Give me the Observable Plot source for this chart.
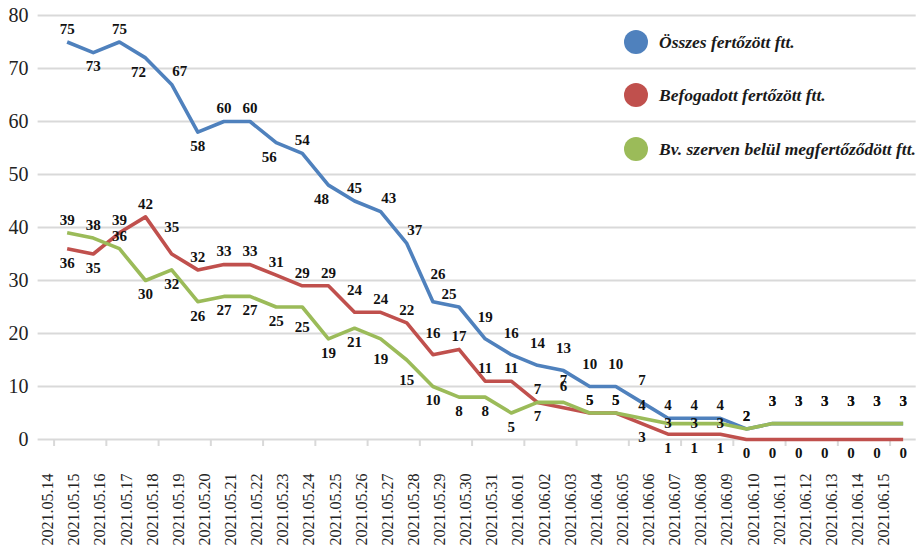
<!DOCTYPE html>
<html><head><meta charset="utf-8">
<script src="https://cdn.jsdelivr.net/npm/d3@7"></script>
<script src="https://cdn.jsdelivr.net/npm/@observablehq/plot@0.6"></script>
<style>
body{margin:0;background:#fff;}
#wrap{position:relative;width:916px;height:552px;overflow:hidden;}
#wrap svg text{font-family:"Liberation Serif","Times New Roman",serif;}
.legend{position:absolute;left:0;top:0;font-family:"Liberation Serif","Times New Roman",serif;font-weight:bold;font-style:italic;font-size:17.5px;color:#1a1a1a;}
.item{position:absolute;display:flex;align-items:center;white-space:nowrap;height:24px;}
.dot{width:24px;height:24px;border-radius:50%;margin-right:11px;flex:none;}
</style></head><body><div id="wrap"></div>
<script>
// ---- data ----
const dates = ["2021.05.14","2021.05.15","2021.05.16","2021.05.17","2021.05.18","2021.05.19","2021.05.20","2021.05.21","2021.05.22","2021.05.23","2021.05.24","2021.05.25","2021.05.26","2021.05.27","2021.05.28","2021.05.29","2021.05.30","2021.05.31","2021.06.01","2021.06.02","2021.06.03","2021.06.04","2021.06.05","2021.06.06","2021.06.07","2021.06.08","2021.06.09","2021.06.10","2021.06.11","2021.06.12","2021.06.13","2021.06.14","2021.06.15"];
const seriesNames = ["Összes fertőzött ftt.", "Befogadott fertőzött ftt.", "Bv. szerven belül megfertőződött ftt."];
const totalInfected    = [75,73,75,72,67,58,60,60,56,54,48,45,43,37,26,25,19,16,14,13,10,10,7,4,4,4,2,3,3,3,3,3,3];
const admittedInfected = [36,35,39,42,35,32,33,33,31,29,29,24,24,22,16,17,11,11,7,6,5,5,3,1,1,1,0,0,0,0,0,0,0];
const infectedInside   = [39,38,36,30,32,26,27,27,25,25,19,21,19,15,10,8,8,5,7,7,5,5,4,3,3,3,2,3,3,3,3,3,3];
const yTicks = [0,10,20,30,40,50,60,70,80];
const colors = ["#4f81bd","#c0504d","#9bbb59"];
// label placement codes per point (a above, A far above, b below, ...)
const labelPlacement = [
  "abaLrbaaLaLarrRlAAAAAAAaaaaAAAAAA",
  "bbaaFaaaaaaAaaAaaaaAaabbbbbbbbbbb",
  "aaabbbbbbBbbBBbbbbbAaaacccaAAAAAA"
];
const placementOffsets = {a:[0,-13], A:[0,-22], F:[0,-27], b:[0,14], B:[0,20], L:[-7,14], r:[8,-13], l:[-10,-13], R:[5,-28], c:[0,0]};

const seriesValues = [totalInfected, admittedInfected, infectedInside];
const rows = seriesValues.flatMap((vals, s) => vals.map((v, i) => ({i, v, name: seriesNames[s], pos: labelPlacement[s][i]})));
const boundaries = d3.range(0, dates.length, 2).map(i => i - 0.5);

const font = '"Liberation Serif","Times New Roman",serif';

const labelMarks = Object.entries(placementOffsets).map(([code, [dx, dy]]) =>
  Plot.text(rows.filter(d => d.pos === code), {
    x: "i", y: "v", text: d => String(d.v), dx, dy,
    fontSize: 15, fontWeight: "bold", fill: "#111"
  })
);

const chart = Plot.plot({
  width: 916, height: 552,
  marginTop: 15, marginBottom: 113, marginLeft: 53.6, marginRight: 0.3,
  style: {fontFamily: font, background: "#fff", color: "#222"},
  x: {type: "linear", domain: [-0.5, dates.length - 0.5], axis: null},
  y: {domain: [0, 80], axis: null},
  color: {domain: seriesNames, range: colors},
  marks: [
    Plot.ruleY(yTicks, {stroke: "#d9d9d9", strokeWidth: 2, insetLeft: -16}),
    Plot.ruleX(boundaries, {y1: 0, y2: 0, insetBottom: -7, stroke: "#d9d9d9", strokeWidth: 2}),
    Plot.line(rows, {x: "i", y: "v", z: "name", stroke: "name", strokeWidth: 3.6, strokeLinecap: "butt", strokeLinejoin: "round"}),
    ...labelMarks,
    // y tick labels
    Plot.text(yTicks, {y: d => d, frameAnchor: "left", textAnchor: "end", dx: -25.6, text: d => String(d), fontSize: 20, fill: "#222"}),
    // x tick labels
    Plot.text(d3.range(dates.length), {x: d => d, frameAnchor: "bottom", rotate: -90, textAnchor: "end", dy: 34, dx: -14, text: i => dates[i], fontSize: 16, fill: "#222"})
  ]
});
const wrap = document.getElementById("wrap");
wrap.appendChild(chart);

// legend overlay
const legend = document.createElement("div");
legend.className = "legend";
const legendY = [42, 95, 149];
seriesNames.forEach((n, k) => {
  const it = document.createElement("div");
  it.className = "item";
  it.style.left = "624px";
  it.style.top = (legendY[k] - 12) + "px";
  it.innerHTML = `<span class="dot" style="background:${colors[k]}"></span><span>${n}</span>`;
  legend.appendChild(it);
});
wrap.appendChild(legend);
</script></body></html>
